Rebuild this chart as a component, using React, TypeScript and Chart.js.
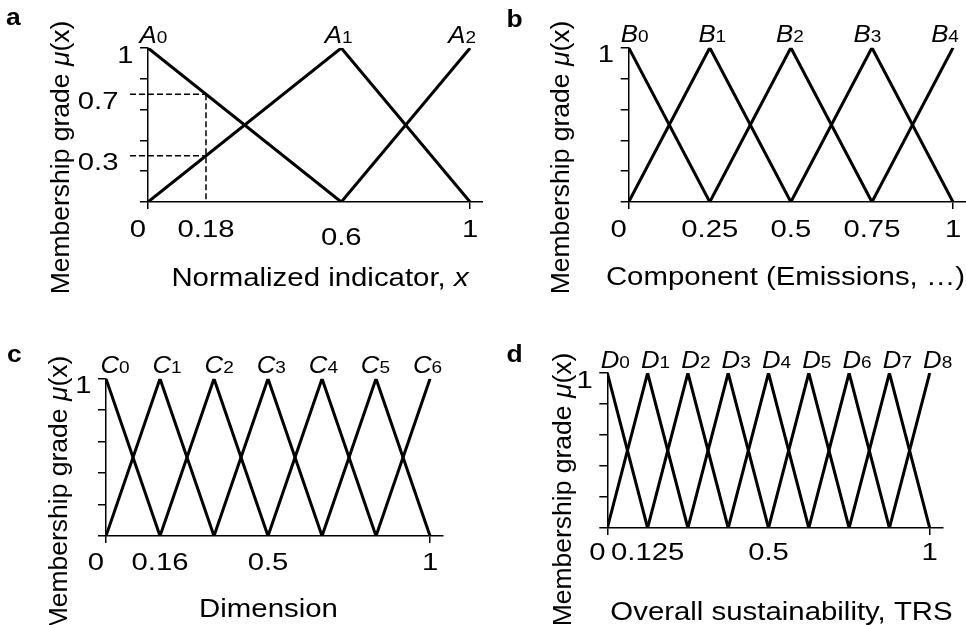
import React, { useEffect, useRef } from 'react';
import { Chart, registerables } from 'chart.js';

Chart.register(...registerables);

const FONT = '"Liberation Sans", Arial, Helvetica, sans-serif';
const X_MAX = 1.04;

// shared axis marks
const yMarks = [0, 0.2, 0.4, 0.6, 0.8, 1];
const xMarks = [0, 1];
const yTickValues = [1];
const yTickLabels = ['1'];

// panel a
const peaksA = [0, 0.6, 1];
const subsA = ['0', '1', '2'];
const xTickValuesA = [0, 0.18, 0.6, 1];
const xTickLabelsA = ['0', '0.18', '0.6', '1'];
const guideX = 0.18;
const guideStartX = -0.056;
const guideLevels = [0.7, 0.3];
const guideLabels = ['0.7', '0.3'];

// panel b
const peaksB = [0, 0.25, 0.5, 0.75, 1];
const subsB = ['0', '1', '2', '3', '4'];
const xTickValuesB = [0, 0.25, 0.5, 0.75, 1];
const xTickLabelsB = ['0', '0.25', '0.5', '0.75', '1'];

// panel c
const peaksC = [0, 0.1667, 0.3333, 0.5, 0.6667, 0.8333, 1];
const subsC = ['0', '1', '2', '3', '4', '5', '6'];
const xTickValuesC = [0, 0.1667, 0.5, 1];
const xTickLabelsC = ['0', '0.16', '0.5', '1'];

// panel d
const peaksD = [0, 0.125, 0.25, 0.375, 0.5, 0.625, 0.75, 0.875, 1];
const subsD = ['0', '1', '2', '3', '4', '5', '6', '7', '8'];
const xTickValuesD = [0, 0.125, 0.5, 1];
const xTickLabelsD = ['0', '0.125', '0.5', '1'];

type Seg = { t: string; size: number; italic?: boolean; bold?: boolean };
type Align = 'left' | 'center' | 'right' | 'inkRight';

type Panel = {
  id: string;
  left: number; top: number; width: number; height: number;
  area: { left: number; top: number; right: number; bottom: number };
  peaks: number[]; letter: string; subs: string[];
  xTickValues: number[]; xTickLabels: string[];
  xLabelDrop?: Record<string, number>;
  xLabelDy: number;
  curveOffset: [number, number];
  panelLetter: { t: string; x: number; y: number };
  yTitle: { x: number; y: number };
  xTitle: { segs: Seg[]; x: number; y: number };
  guides?: boolean;
};

function fontOf(s: Seg) {
  return `${s.italic ? 'italic ' : ''}${s.bold ? 'bold ' : ''}${s.size}px ${FONT}`;
}

function drawSegs(ctx: CanvasRenderingContext2D, segs: Seg[], x: number, y: number, align: Align, sx = 1, rot = 0) {
  ctx.save();
  ctx.fillStyle = '#000';
  ctx.textBaseline = 'alphabetic';
  ctx.textAlign = 'left';
  const ms = segs.map((s) => { ctx.font = fontOf(s); return ctx.measureText(s.t); });
  const total = ms.reduce((a, m) => a + m.width, 0);
  let start = 0;
  if (align === 'center') start = -total / 2;
  else if (align === 'right') start = -total;
  else if (align === 'inkRight') {
    const last = ms[ms.length - 1];
    start = -(total - last.width + last.actualBoundingBoxRight);
  }
  ctx.translate(x, y);
  if (rot) ctx.rotate(rot);
  ctx.scale(sx, 1);
  let cx = start;
  segs.forEach((s, i) => { ctx.font = fontOf(s); ctx.fillText(s.t, cx, 0); cx += ms[i].width; });
  ctx.restore();
}

const TICK_SIZE = 24;
const TICK_SX = 1.22;
const TITLE_SIZE = 26;
const TITLE_SX = 1.13;

function triangles(peaks: number[]) {
  return peaks.map((p, i) => {
    const pts: { x: number; y: number }[] = [];
    if (i > 0) pts.push({ x: peaks[i - 1], y: 0 });
    pts.push({ x: p, y: 1 });
    if (i < peaks.length - 1) pts.push({ x: peaks[i + 1], y: 0 });
    return pts;
  });
}

function textPlugin(p: Panel) {
  return {
    id: 'panelText_' + p.id,
    afterDraw(chart: any) {
      const ctx: CanvasRenderingContext2D = chart.ctx;
      const xs = chart.scales.x;
      const ys = chart.scales.y;
      const area = chart.chartArea;
      // panel letter
      drawSegs(ctx, [{ t: p.panelLetter.t, size: 23, bold: true }], p.panelLetter.x, p.panelLetter.y, 'left', 1.15);
      // y title
      drawSegs(ctx, [
        { t: 'Membership grade ', size: 26.5 },
        { t: 'μ', size: 26.5, italic: true },
        { t: '(x)', size: 26.5 },
      ], p.yTitle.x, p.yTitle.y, 'center', 1, -Math.PI / 2);
      // x title
      drawSegs(ctx, p.xTitle.segs, p.xTitle.x, p.xTitle.y, 'center', TITLE_SX);
      // y tick labels
      yTickValues.forEach((v, i) => {
        drawSegs(ctx, [{ t: yTickLabels[i], size: TICK_SIZE }], area.left - 15, ys.getPixelForValue(v) + 14.5, 'inkRight', TICK_SX);
      });
      if (p.guides) {
        guideLevels.forEach((v, i) => {
          drawSegs(ctx, [{ t: guideLabels[i], size: TICK_SIZE }], area.left - 30, ys.getPixelForValue(v) + 14.5, 'inkRight', TICK_SX);
        });
      }
      // x tick labels
      p.xTickValues.forEach((v, i) => {
        const lab = p.xTickLabels[i];
        const dx = v === 0 ? -10 : 0;
        const drop = (p.xLabelDrop && p.xLabelDrop[lab]) || 0;
        drawSegs(ctx, [{ t: lab, size: TICK_SIZE }], xs.getPixelForValue(v) + dx, area.bottom + p.xLabelDy + drop, 'center', TICK_SX);
      });
      // curve labels
      const top = ys.getPixelForValue(1);
      p.peaks.forEach((v, i) => {
        const off = p.curveOffset[0] + (p.curveOffset[1] - p.curveOffset[0]) * v;
        drawSegs(ctx, [
          { t: p.letter, size: 23, italic: true },
          { t: p.subs[i], size: 17 },
        ], xs.getPixelForValue(v) + off, top - 5.5, 'center', 1.12);
      });
    },
  };
}

function buildConfig(p: Panel): any {
  const datasets: any[] = triangles(p.peaks).map((pts) => ({
    data: pts,
    showLine: true,
    borderColor: '#000',
    borderWidth: 3,
    pointRadius: 0,
    pointHoverRadius: 0,
    tension: 0,
    fill: false,
    borderJoinStyle: 'miter',
    borderCapStyle: 'butt',
  }));
  if (p.guides) {
    guideLevels.forEach((lv) => {
      datasets.push({
        data: [{ x: guideStartX, y: lv }, { x: guideX, y: lv }],
        showLine: true, borderColor: '#000', borderWidth: 1.5, borderDash: [6, 3],
        pointRadius: 0, clip: false,
      });
    });
    datasets.push({
      data: [{ x: guideX, y: guideLevels[0] }, { x: guideX, y: 0 }],
      showLine: true, borderColor: '#000', borderWidth: 1.5, borderDash: [6, 3],
      pointRadius: 0, clip: false,
    });
  }
  const Y_W = 10;
  const X_H = 10;
  return {
    type: 'scatter',
    data: { datasets },
    options: {
      animation: false,
      responsive: false,
      maintainAspectRatio: false,
      events: [],
      layout: {
        autoPadding: false,
        padding: {
          left: p.area.left - Y_W,
          right: p.width - p.area.right,
          top: p.area.top,
          bottom: p.height - p.area.bottom - X_H,
        },
      },
      plugins: { legend: { display: false }, tooltip: { enabled: false }, title: { display: false } },
      scales: {
        x: {
          type: 'linear', min: 0, max: X_MAX,
          afterBuildTicks: (s: any) => { s.ticks = xMarks.map((v) => ({ value: v })); },
          afterFit: (s: any) => { s.height = X_H; },
          ticks: { display: false },
          grid: { drawOnChartArea: false, drawTicks: true, tickLength: 7, color: '#000', lineWidth: 1.5 },
          border: { display: true, color: '#000', width: 1.5 },
        },
        y: {
          type: 'linear', min: 0, max: 1,
          afterBuildTicks: (s: any) => { s.ticks = yMarks.map((v) => ({ value: v })); },
          afterFit: (s: any) => { s.width = Y_W; },
          ticks: { display: false },
          grid: { drawOnChartArea: false, drawTicks: true, tickLength: 8, color: '#000', lineWidth: 1.5 },
          border: { display: true, color: '#000', width: 1.5 },
        },
      },
    },
    plugins: [textPlugin(p)],
  };
}

const panels: Panel[] = [
  {
    id: 'a', left: 0, top: 0, width: 483, height: 312,
    area: { left: 148, top: 48, right: 483, bottom: 202 },
    peaks: peaksA, letter: 'A', subs: subsA,
    xTickValues: xTickValuesA, xTickLabels: xTickLabelsA, xLabelDrop: { '0.6': 8 }, xLabelDy: 35,
    curveOffset: [5.5, -8],
    panelLetter: { t: 'a', x: 6, y: 25 },
    yTitle: { x: 68.5, y: 157.5 },
    xTitle: { segs: [{ t: 'Normalized indicator, ', size: TITLE_SIZE }, { t: 'x', size: TITLE_SIZE, italic: true }], x: 320, y: 286 },
    guides: true,
  },
  {
    id: 'b', left: 483, top: 0, width: 483, height: 312,
    area: { left: 145.7, top: 47.7, right: 483, bottom: 202 },
    peaks: peaksB, letter: 'B', subs: subsB,
    xTickValues: xTickValuesB, xTickLabels: xTickLabelsB, xLabelDy: 35,
    curveOffset: [6, -8],
    panelLetter: { t: 'b', x: 23.5, y: 27 },
    yTitle: { x: 86, y: 157.5 },
    xTitle: { segs: [{ t: 'Component (Emissions, …)', size: TITLE_SIZE }], x: 302.5, y: 285 },
  },
  {
    id: 'c', left: 0, top: 312, width: 483, height: 313,
    area: { left: 106, top: 66.7, right: 443, bottom: 224 },
    peaks: peaksC, letter: 'C', subs: subsC,
    xTickValues: xTickValuesC, xTickLabels: xTickLabelsC, xLabelDy: 34,
    curveOffset: [9, -2.5],
    panelLetter: { t: 'c', x: 7, y: 50 },
    yTitle: { x: 67, y: 180.5 },
    xTitle: { segs: [{ t: 'Dimension', size: TITLE_SIZE }], x: 268.5, y: 305 },
  },
  {
    id: 'd', left: 483, top: 312, width: 483, height: 313,
    area: { left: 124.3, top: 61, right: 459.6, bottom: 216 },
    peaks: peaksD, letter: 'D', subs: subsD,
    xTickValues: xTickValuesD, xTickLabels: xTickLabelsD, xLabelDy: 32,
    curveOffset: [8, 8],
    panelLetter: { t: 'd', x: 23.5, y: 50 },
    yTitle: { x: 88, y: 177.5 },
    xTitle: { segs: [{ t: 'Overall sustainability, TRS', size: TITLE_SIZE }], x: 298.5, y: 308 },
  },
];

function PanelChart({ p }: { p: Panel }) {
  const ref = useRef<HTMLCanvasElement>(null);
  useEffect(() => {
    if (!ref.current) return;
    const chart = new Chart(ref.current, buildConfig(p));
    return () => chart.destroy();
  }, [p]);
  return (
    <canvas
      ref={ref}
      width={p.width}
      height={p.height}
      style={{ position: 'absolute', left: p.left, top: p.top, width: p.width, height: p.height }}
    />
  );
}

export default function App() {
  return (
    <div style={{ position: 'absolute', left: 0, top: 0, width: 966, height: 625, background: '#fff', overflow: 'hidden' }}>
      {panels.map((p) => <PanelChart key={p.id} p={p} />)}
    </div>
  );
}
